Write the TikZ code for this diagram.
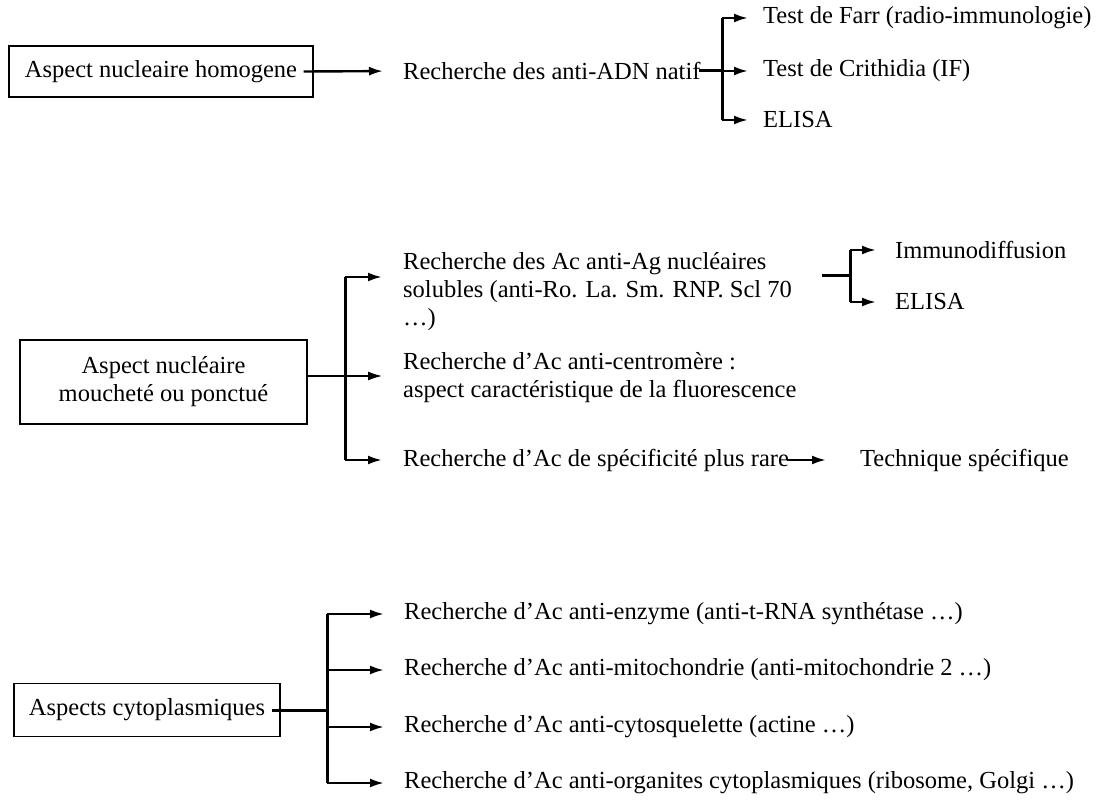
\documentclass[tikz,border=0pt]{standalone}
\usepackage{fontspec}
\setmainfont{Liberation Serif}
\usetikzlibrary{arrows.meta}
\begin{document}
\begin{tikzpicture}[x=1pt,y=-1pt,
  every node/.style={font=\fontsize{24.5}{28}\selectfont},
  txt/.style={anchor=west,inner sep=0pt,align=left},
  boxnode/.style={draw,line width=1.3pt,inner sep=0pt,align=center},
  brk/.style={line width=3pt},
  arr/.style={line width=2.4pt,-{Latex[length=14pt,width=9pt]}},
  thinarr/.style={line width=1.4pt,-{Latex[length=14pt,width=9pt]}}]
\useasboundingbox (0,0) rectangle (1096,810);

% ---------- Group 1 ----------
\node[boxnode,minimum width=304pt,minimum height=51pt] (b1) at (161,71.5) {Aspect nucleaire homogene};
\node[txt] (t1) at (403,71) {Recherche des anti-ADN natif};
\node[txt] (f1) at (763,18) {Test de Farr (radio-immunologie)};
\node[txt] (f2) at (763,71) {Test de Crithidia (IF)};
\node[txt] (f3) at (763,120) {ELISA};
\coordinate (k1) at (722,71);
\draw[arr,shorten >=20pt] ([xshift=-10pt]b1.east) -- (t1.west);
\draw[brk] ([xshift=-2pt]t1.east) -- (k1);
\draw[brk] (k1|-f1.west) -- (k1|-f3.west);
\draw[arr,shorten >=15pt] (k1|-f1.west) -- (f1.west);
\draw[arr,shorten >=15pt] (k1) -- (f2.west);
\draw[arr,shorten >=15pt] (k1|-f3.west) -- (f3.west);

% ---------- Group 2 ----------
\node[boxnode,minimum width=287pt,minimum height=84pt] (b2) at (163.5,382) {Aspect nucléaire\\moucheté ou ponctué};
\node[txt] (g1) at (403,292) {Recherche des Ac anti-Ag nucléaires\\solubles (anti-Ro. La. Sm. RNP. Scl 70\\\ldots)};
\node[txt] (g2) at (403,378) {Recherche d'Ac anti-centromère :\\aspect caractéristique de la fluorescence};
\node[txt] (g3) at (403,460) {Recherche d'Ac de spécificité plus rare};
\node[txt] (tech) at (860,460) {Technique spécifique};
\node[txt] (im) at (895,250) {Immunodiffusion};
\node[txt] (el2) at (895,302) {ELISA};
\coordinate (k2) at (345,376);
\coordinate (k2t) at (345,277);
\coordinate (k2b) at (345,460);
\draw[line width=1.4pt] (b2.east|-k2) -- (k2);
\draw[brk] (k2t) -- (k2b);
\draw[arr,shorten >=21pt] (k2t) -- (k2t-|g1.west);
\draw[thinarr,shorten >=21pt] (k2) -- (k2-|g2.west);
\draw[arr,shorten >=21pt] (k2b) -- (g3.west);
\draw[arr,shorten >=34pt] ([xshift=-2pt]g3.east) -- (tech.west);
\coordinate (s3) at (822,276);
\coordinate (k3) at (850,276);
\draw[brk] (s3) -- (k3);
\draw[brk] (k3|-im.west) -- (k3|-el2.west);
\draw[arr,shorten >=19pt] (k3|-im.west) -- (im.west);
\draw[arr,shorten >=19pt] (k3|-el2.west) -- (el2.west);

% ---------- Group 3 ----------
\node[boxnode,minimum width=266pt,minimum height=53pt] (b3) at (147,710) {Aspects cytoplasmiques};
\node[txt] (h1) at (404,614) {Recherche d'Ac anti-enzyme (anti-t-RNA synthétase \ldots)};
\node[txt] (h2) at (404,670) {Recherche d'Ac anti-mitochondrie (anti-mitochondrie 2 \ldots)};
\node[txt] (h3) at (404,727) {Recherche d'Ac anti-cytosquelette (actine \ldots)};
\node[txt] (h4) at (404,783) {Recherche d'Ac anti-organites cytoplasmiques (ribosome, Golgi \ldots)};
\coordinate (k4) at (327,710);
\draw[brk] ([xshift=-9pt]b3.east) -- (k4);
\draw[brk] (k4|-h1.west) -- (k4|-h4.west);
\draw[arr,shorten >=20pt] (k4|-h1.west) -- (h1.west);
\draw[arr,shorten >=20pt] (k4|-h2.west) -- (h2.west);
\draw[arr,shorten >=20pt] (k4|-h3.west) -- (h3.west);
\draw[arr,shorten >=20pt] (k4|-h4.west) -- (h4.west);
\end{tikzpicture}
\end{document}
